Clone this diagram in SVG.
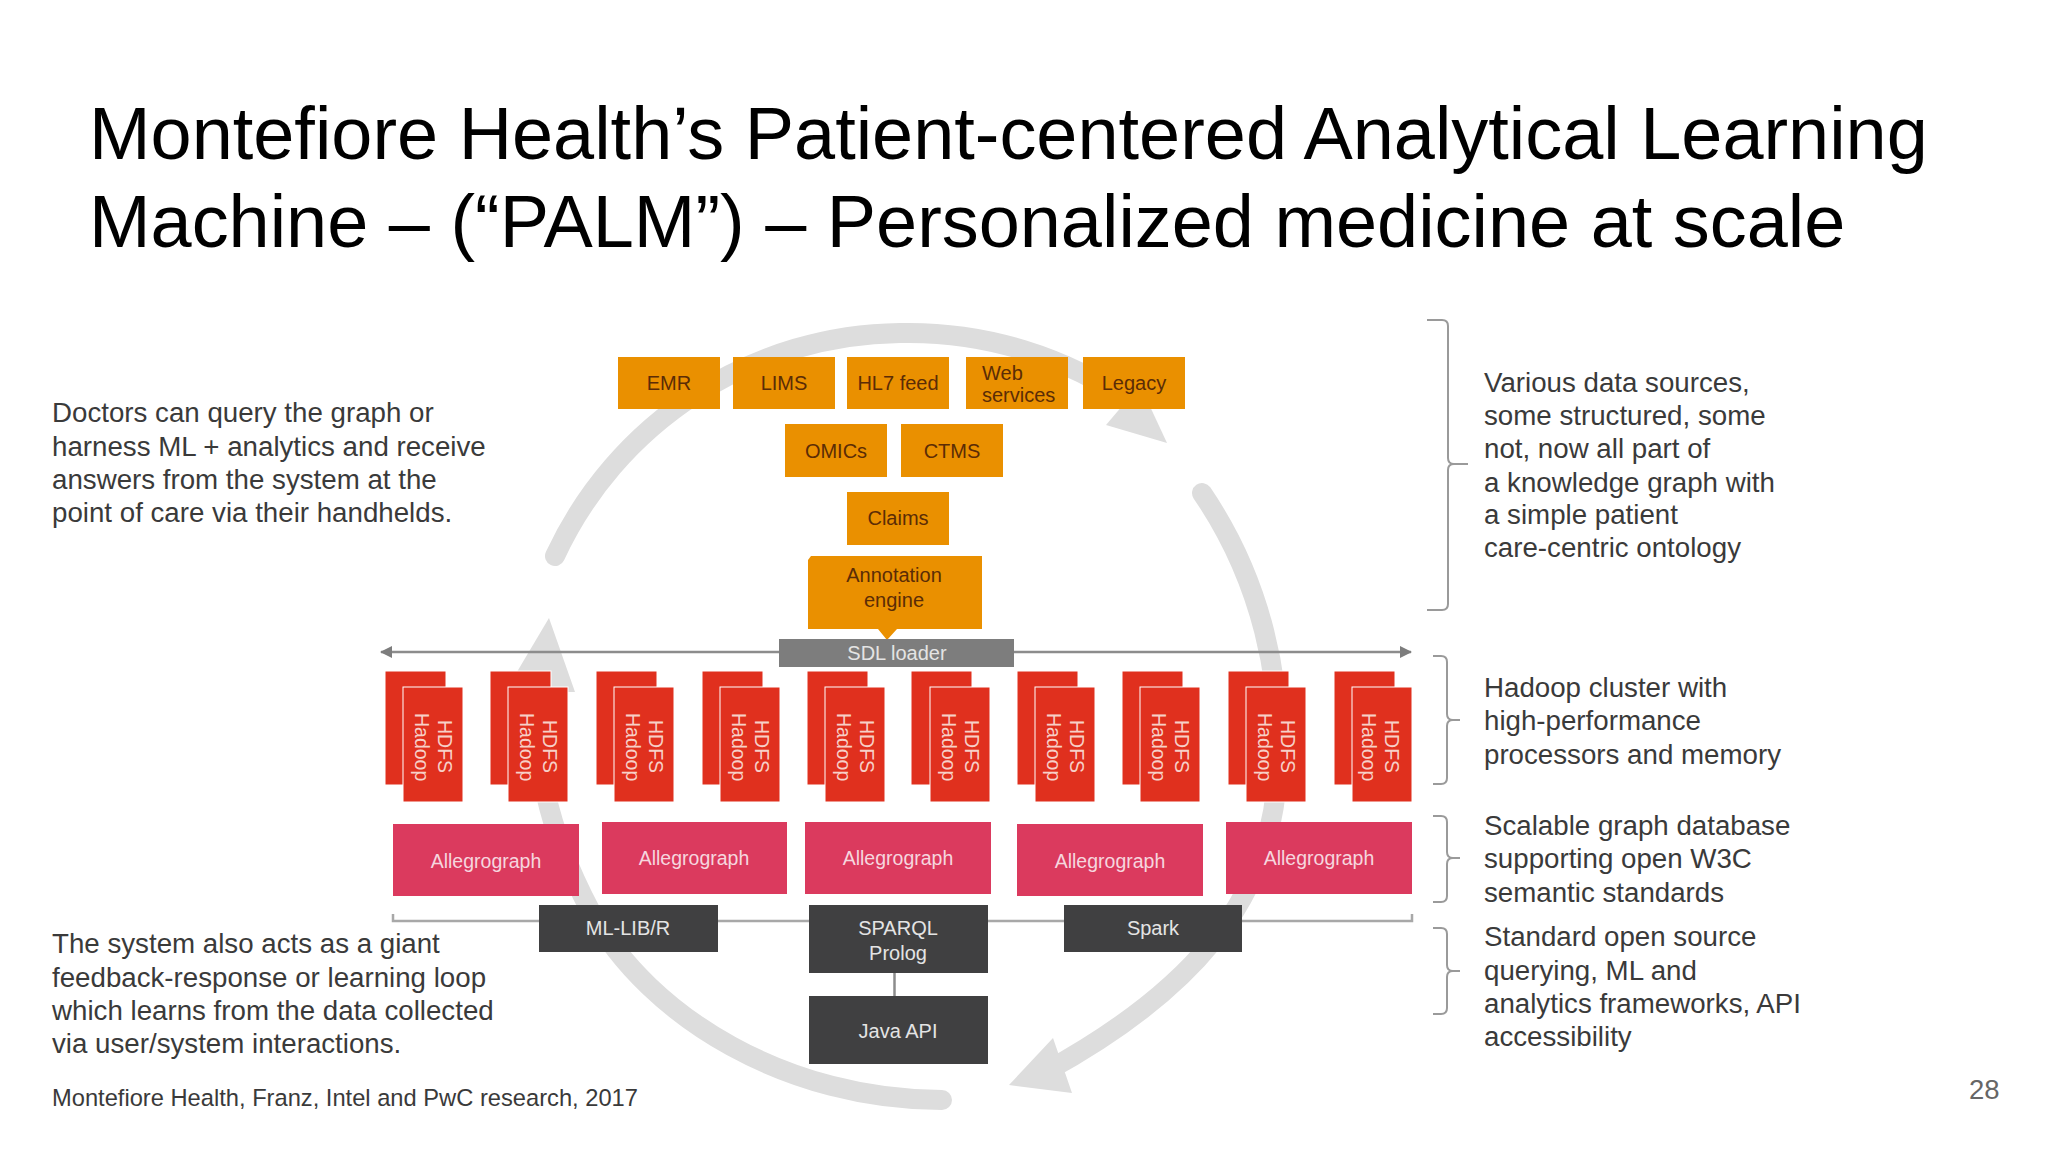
<svg xmlns="http://www.w3.org/2000/svg" width="2048" height="1152" viewBox="0 0 2048 1152">
<style>
text{font-family:"Liberation Sans",Arial,sans-serif}
.title{font-size:73.9px;fill:#000}
.note{font-size:27.7px;fill:#3a3a3a}
.foot{font-size:23.7px;fill:#3a3a3a}
.pg{font-size:27.500px;fill:#666}
.o{fill:#ea9000}
.ot{font-size:20px;fill:#5b2c06;text-anchor:middle}
.r{fill:#e0301e;stroke:#fff;stroke-width:1}
.rt{font-size:19.5px;fill:#f7d0c8}
.p{fill:#db3a5e}
.pt{font-size:19.5px;fill:#f6d6de;text-anchor:middle}
.d{fill:#404041}
.dt{font-size:20px;fill:#e4e4e4;text-anchor:middle}
.loop{fill:none;stroke:#dddddd;stroke-width:20;stroke-linecap:round}
.head{fill:#dddddd}
.line{fill:none;stroke:#8c8c8c;stroke-width:2.5}
.rail{fill:none;stroke:#a8a8a8;stroke-width:2.5}
.br{fill:none;stroke:#9a9a9a;stroke-width:2}
</style>
<defs>
<marker id="ah" markerUnits="userSpaceOnUse" markerWidth="12" markerHeight="12" refX="11" refY="6" orient="auto-start-reverse"><path d="M0 0L12 6L0 12Z" fill="#7d7d7d"/></marker>
</defs>
<rect width="2048" height="1152" fill="#fff"/>
<g id="loop">
<path class="loop" d="M555 556A385 385 0 0 1 900 333A390 390 0 0 1 1135 405"/>
<path class="head" d="M1167 443L1106 425L1140 385Z"/>
<path class="loop" d="M1202 493C1258 575 1287 680 1276 790C1265 900 1195 990 1045 1072"/>
<path class="head" d="M1009 1085L1053 1038L1072 1093Z"/>
<path class="loop" d="M942 1100C790 1100 650 1020 590 910C545 825 535 760 535 680"/>
<path class="head" d="M549 618L505 692L575 692Z"/>
</g>
<text class="title" x="89" y="159">Montefiore Health’s Patient-centered Analytical Learning</text>
<text class="title" x="89" y="247">Machine – (“PALM”) – Personalized medicine at scale</text>
<g class="notes">
<text class="note" x="52" y="422">Doctors can query the graph or</text>
<text class="note" x="52" y="456">harness ML + analytics and receive</text>
<text class="note" x="52" y="489">answers from the system at the</text>
<text class="note" x="52" y="522">point of care via their handhelds.</text>
<text class="note" x="52" y="953">The system also acts as a giant</text>
<text class="note" x="52" y="987">feedback-response or learning loop</text>
<text class="note" x="52" y="1020">which learns from the data collected</text>
<text class="note" x="52" y="1053">via user/system interactions.</text>
<text class="foot" x="52" y="1106">Montefiore Health, Franz, Intel and PwC research, 2017</text>
<text class="note" x="1484" y="392">Various data sources,</text>
<text class="note" x="1484" y="425">some structured, some</text>
<text class="note" x="1484" y="458">not, now all part of</text>
<text class="note" x="1484" y="492">a knowledge graph with</text>
<text class="note" x="1484" y="524">a simple patient</text>
<text class="note" x="1484" y="557">care-centric ontology</text>
<text class="note" x="1484" y="697">Hadoop cluster with</text>
<text class="note" x="1484" y="730">high-performance</text>
<text class="note" x="1484" y="764">processors and memory</text>
<text class="note" x="1484" y="835">Scalable graph database</text>
<text class="note" x="1484" y="868">supporting open W3C</text>
<text class="note" x="1484" y="902">semantic standards</text>
<text class="note" x="1484" y="946">Standard open source</text>
<text class="note" x="1484" y="980">querying, ML and</text>
<text class="note" x="1484" y="1013">analytics frameworks, API</text>
<text class="note" x="1484" y="1046">accessibility</text>
<text class="pg" x="1969" y="1099">28</text>
</g>
<g id="connectors">
<path class="line" d="M381 652H1411" marker-start="url(#ah)" marker-end="url(#ah)"/>
<path class="rail" d="M393 914V921H1412V914"/>
<path class="line" d="M894.500 973V996" stroke-width="1.500"/>
<path class="br" d="M1427 320H1442Q1448 320 1448 326V458Q1448 464 1454 464H1468M1454 464Q1448 464 1448 470V604Q1448 610 1442 610H1427"/>
<path class="br" d="M1433 656H1441Q1447 656 1447 662V714Q1447 720 1453 720H1460M1453 720Q1447 720 1447 726V778Q1447 784 1441 784H1433"/>
<path class="br" d="M1433 816H1441Q1447 816 1447 822V852Q1447 858 1453 858H1460M1453 858Q1447 858 1447 864V896Q1447 902 1441 902H1433"/>
<path class="br" d="M1433 928H1441Q1447 928 1447 934V965Q1447 971 1453 971H1460M1453 971Q1447 971 1447 977V1008Q1447 1014 1441 1014H1433"/>
</g>
<g id="emr"><rect class="o" x="618" y="357" width="102" height="52"/><text class="ot" x="669" y="390">EMR</text></g>
<g id="lims"><rect class="o" x="733" y="357" width="102" height="52"/><text class="ot" x="784" y="390">LIMS</text></g>
<g id="hl7"><rect class="o" x="847" y="357" width="102" height="52"/><text class="ot" x="898" y="390">HL7 feed</text></g>
<g id="web"><rect class="o" x="966" y="357" width="102" height="52"/><text class="ot" x="982" y="380" style="text-anchor:start">Web</text><text class="ot" x="982" y="402" style="text-anchor:start">services</text></g>
<g id="legacy"><rect class="o" x="1083" y="357" width="102" height="52"/><text class="ot" x="1134" y="390">Legacy</text></g>
<g id="omics"><rect class="o" x="785" y="424" width="102" height="53"/><text class="ot" x="836" y="458">OMICs</text></g>
<g id="ctms"><rect class="o" x="901" y="424" width="102" height="53"/><text class="ot" x="952" y="458">CTMS</text></g>
<g id="claims"><rect class="o" x="847" y="492" width="102" height="53"/><text class="ot" x="898" y="525">Claims</text></g>
<g id="annotation"><path class="o" d="M811 556H982V629H897L887 640L878 629H808V560Z"/><text class="ot" x="894" y="582">Annotation</text><text class="ot" x="894" y="607">engine</text></g>
<g id="sdl"><rect x="779" y="639" width="235" height="28" fill="#7d7d7d"/><text class="dt" x="897" y="660">SDL loader</text></g>
<g id="hadoop1"><rect class="r" x="385" y="671" width="61" height="114"/><rect class="r" x="403" y="687" width="60" height="115"/><text class="rt" transform="translate(414.500 713) rotate(90)">Hadoop</text><text class="rt" transform="translate(437.500 720) rotate(90)">HDFS</text></g>
<g id="hadoop2"><rect class="r" x="490" y="671" width="61" height="114"/><rect class="r" x="508" y="687" width="60" height="115"/><text class="rt" transform="translate(519.500 713) rotate(90)">Hadoop</text><text class="rt" transform="translate(542.500 720) rotate(90)">HDFS</text></g>
<g id="hadoop3"><rect class="r" x="596" y="671" width="61" height="114"/><rect class="r" x="614" y="687" width="60" height="115"/><text class="rt" transform="translate(625.500 713) rotate(90)">Hadoop</text><text class="rt" transform="translate(648.500 720) rotate(90)">HDFS</text></g>
<g id="hadoop4"><rect class="r" x="702" y="671" width="61" height="114"/><rect class="r" x="720" y="687" width="60" height="115"/><text class="rt" transform="translate(731.500 713) rotate(90)">Hadoop</text><text class="rt" transform="translate(754.500 720) rotate(90)">HDFS</text></g>
<g id="hadoop5"><rect class="r" x="807" y="671" width="61" height="114"/><rect class="r" x="825" y="687" width="60" height="115"/><text class="rt" transform="translate(836.500 713) rotate(90)">Hadoop</text><text class="rt" transform="translate(859.500 720) rotate(90)">HDFS</text></g>
<g id="hadoop6"><rect class="r" x="911" y="671" width="61" height="114"/><rect class="r" x="930" y="687" width="60" height="115"/><text class="rt" transform="translate(941.500 713) rotate(90)">Hadoop</text><text class="rt" transform="translate(964.500 720) rotate(90)">HDFS</text></g>
<g id="hadoop7"><rect class="r" x="1017" y="671" width="61" height="114"/><rect class="r" x="1035" y="687" width="60" height="115"/><text class="rt" transform="translate(1046.500 713) rotate(90)">Hadoop</text><text class="rt" transform="translate(1069.500 720) rotate(90)">HDFS</text></g>
<g id="hadoop8"><rect class="r" x="1122" y="671" width="61" height="114"/><rect class="r" x="1140" y="687" width="60" height="115"/><text class="rt" transform="translate(1151.500 713) rotate(90)">Hadoop</text><text class="rt" transform="translate(1174.500 720) rotate(90)">HDFS</text></g>
<g id="hadoop9"><rect class="r" x="1228" y="671" width="61" height="114"/><rect class="r" x="1246" y="687" width="60" height="115"/><text class="rt" transform="translate(1257.500 713) rotate(90)">Hadoop</text><text class="rt" transform="translate(1280.500 720) rotate(90)">HDFS</text></g>
<g id="hadoop10"><rect class="r" x="1334" y="671" width="61" height="114"/><rect class="r" x="1352" y="687" width="60" height="115"/><text class="rt" transform="translate(1361.500 713) rotate(90)">Hadoop</text><text class="rt" transform="translate(1384.500 720) rotate(90)">HDFS</text></g>
<g id="ag1"><rect class="p" x="393" y="824" width="186" height="72"/><text class="pt" x="486" y="868">Allegrograph</text></g>
<g id="ag2"><rect class="p" x="602" y="822" width="185" height="72"/><text class="pt" x="694" y="865">Allegrograph</text></g>
<g id="ag3"><rect class="p" x="805" y="822" width="186" height="72"/><text class="pt" x="898" y="865">Allegrograph</text></g>
<g id="ag4"><rect class="p" x="1017" y="824" width="186" height="72"/><text class="pt" x="1110" y="868">Allegrograph</text></g>
<g id="ag5"><rect class="p" x="1226" y="822" width="186" height="72"/><text class="pt" x="1319" y="865">Allegrograph</text></g>
<g id="mllib"><rect class="d" x="539" y="905" width="179" height="47"/><text class="dt" x="628" y="935">ML-LIB/R</text></g>
<g id="sparql"><rect class="d" x="809" y="905" width="179" height="68"/><text class="dt" x="898" y="935">SPARQL</text><text class="dt" x="898" y="960">Prolog</text></g>
<g id="spark"><rect class="d" x="1064" y="905" width="178" height="47"/><text class="dt" x="1153" y="935">Spark</text></g>
<g id="java"><rect class="d" x="809" y="996" width="179" height="68"/><text class="dt" x="898" y="1038">Java API</text></g>
</svg>
